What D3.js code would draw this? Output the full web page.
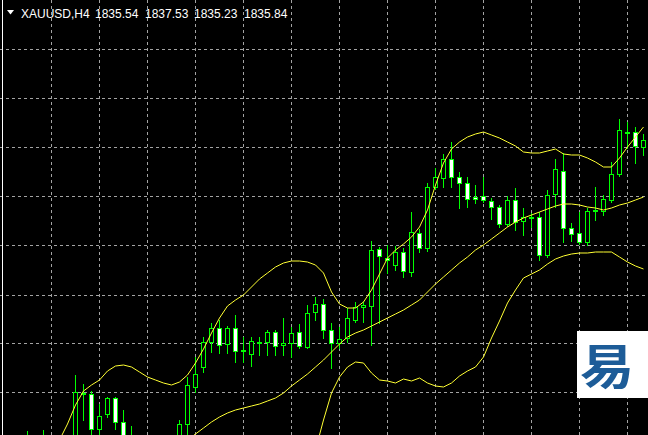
<!DOCTYPE html>
<html><head><meta charset="utf-8">
<script src="https://cdn.jsdelivr.net/npm/d3@7"></script>
<style>html,body{margin:0;padding:0;background:#000;overflow:hidden}svg{display:block}</style>
</head><body><svg id="c" width="648" height="435"></svg>
<script>
// ---- data (XAUUSD H4, bar index relative to first fully drawn bar) ----
const firstBar = -6;
const open = [1774.84,1773.84,1774.64,1774.24,1774.84,1773.44,1774.84,1785.34,1785.04,1778.04,1781.04,1784.24,1779.44,1774.24,1772.84,1773.84,1771.84,1773.44,1774.44,1774.84,1779.04,1786.44,1790.44,1795.44,1798.24,1795.04,1798.24,1793.84,1793.04,1795.44,1795.44,1797.44,1794.74,1795.34,1797.44,1794.44,1801.44,1803.04,1797.84,1795.24,1796.24,1799.84,1802.44,1802.64,1814.04,1812.24,1810.84,1813.44,1809.44,1817.24,1814.24,1826.44,1828.24,1832.04,1828.44,1827.24,1824.44,1824.64,1823.64,1822.44,1819.04,1823.84,1819.64,1820.44,1820.44,1812.84,1825.04,1829.64,1818.24,1817.24,1815.44,1821.84,1821.64,1823.84,1829.04,1837.24,1837.44,1834.44];
const high = [1777.64,1775.84,1777.84,1775.64,1775.84,1775.44,1788.84,1787.04,1785.64,1783.04,1784.44,1784.44,1781.84,1778.64,1775.84,1775.44,1774.84,1775.84,1776.24,1779.84,1788.44,1792.44,1796.44,1799.24,1799.84,1798.64,1800.84,1796.44,1796.44,1796.44,1797.84,1797.84,1800.24,1798.44,1799.04,1802.84,1804.44,1804.04,1799.24,1798.44,1802.24,1803.44,1803.44,1815.64,1814.44,1814.84,1814.64,1814.24,1821.44,1818.04,1827.24,1830.24,1833.04,1835.44,1829.44,1828.44,1826.84,1828.44,1824.24,1822.84,1824.64,1826.24,1822.24,1821.24,1821.44,1825.84,1832.04,1833.24,1819.24,1821.44,1822.24,1826.44,1824.84,1831.44,1840.04,1839.44,1838.44,1837.04];
const low = [1772.84,1771.84,1772.84,1772.24,1772.84,1771.84,1773.84,1779.84,1776.44,1776.24,1780.44,1778.04,1774.44,1773.44,1771.84,1770.84,1770.24,1771.84,1772.84,1773.84,1776.24,1785.44,1789.44,1793.44,1793.24,1793.24,1791.44,1791.44,1790.64,1792.84,1792.84,1792.84,1792.84,1792.44,1794.24,1794.24,1799.84,1796.24,1790.24,1794.24,1795.44,1799.44,1799.44,1794.84,1799.24,1809.24,1809.84,1808.44,1808.64,1813.44,1813.64,1826.04,1826.44,1826.44,1822.24,1822.44,1823.24,1823.44,1820.04,1818.44,1818.64,1817.84,1816.84,1818.44,1811.84,1812.44,1822.44,1815.44,1815.64,1815.04,1814.84,1819.84,1820.84,1823.44,1828.64,1834.24,1831.24,1832.84];
const close = [1775.84,1774.84,1775.84,1774.84,1773.84,1774.44,1785.44,1785.04,1778.04,1780.64,1784.24,1779.44,1775.44,1776.24,1774.84,1772.24,1773.44,1774.44,1774.84,1779.04,1786.84,1789.04,1795.44,1798.24,1794.84,1798.24,1793.64,1793.54,1795.64,1795.24,1797.44,1794.64,1795.34,1797.24,1794.64,1801.24,1803.04,1797.84,1795.24,1796.04,1800.24,1802.44,1802.84,1813.84,1812.64,1811.84,1813.44,1809.64,1817.44,1814.24,1826.44,1828.44,1832.04,1828.44,1827.24,1824.04,1824.04,1823.84,1822.44,1819.04,1823.84,1819.44,1820.44,1820.24,1812.84,1824.84,1830.04,1818.24,1817.04,1815.44,1821.64,1821.64,1824.04,1829.04,1837.84,1837.44,1834.64,1835.84];

// Bollinger Bands (null = outside the visible window)
const bbUpper = [null,null,null,null,1775.84,1779.04,1782.84,1785.64,1786.84,1787.84,1789.64,1790.64,1790.84,1790.44,1789.44,1788.44,1787.84,1787.24,1786.84,1787.44,1788.84,1791.24,1794.04,1797.24,1800.24,1802.64,1803.84,1804.84,1806.44,1808.04,1809.24,1810.44,1811.24,1811.64,1811.64,1811.44,1810.84,1809.24,1805.44,1803.04,1802.24,1802.24,1803.44,1805.84,1809.04,1812.24,1813.84,1815.04,1816.44,1818.44,1821.84,1826.84,1831.24,1834.04,1835.44,1836.44,1837.04,1837.44,1836.84,1836.24,1835.44,1834.64,1833.44,1833.24,1833.24,1833.64,1834.04,1833.04,1832.84,1832.84,1832.24,1831.44,1830.44,1830.44,1832.24,1834.44,1836.44,1838.44];
const bbMiddle = [null,null,null,null,null,null,null,null,null,null,null,null,null,null,null,null,null,null,null,null,1775.84,1777.04,1778.24,1779.44,1780.44,1781.24,1781.84,1782.24,1782.64,1783.04,1783.64,1784.24,1785.24,1786.64,1787.84,1789.04,1790.44,1791.84,1793.44,1795.04,1796.44,1797.24,1797.84,1798.64,1799.44,1800.24,1801.04,1801.84,1802.84,1803.84,1805.44,1807.04,1808.44,1809.84,1811.24,1812.44,1813.84,1814.84,1816.04,1817.24,1818.44,1819.44,1820.24,1820.84,1821.44,1822.04,1822.64,1823.04,1823.04,1822.84,1822.44,1822.24,1821.84,1822.24,1822.84,1823.24,1823.84,1824.44];
const bbLower = [null,null,null,null,null,null,null,null,null,null,null,null,null,null,null,null,null,null,null,null,null,null,null,null,null,null,null,null,null,null,null,null,null,null,null,null,1773.84,1779.84,1785.24,1788.44,1790.44,1791.44,1791.24,1789.24,1787.84,1787.64,1787.24,1788.04,1787.64,1788.24,1787.24,1786.64,1786.44,1787.24,1788.64,1789.64,1790.44,1792.44,1796.24,1799.64,1803.24,1805.84,1808.24,1809.04,1809.84,1811.04,1812.04,1812.64,1813.04,1813.24,1813.24,1813.44,1813.44,1813.44,1812.44,1811.44,1810.64,1810.04];

const gridPrices = [1853.84,1844.04,1834.24,1824.44,1814.64,1804.84,1795.04,1785.24];
const barsPerDay = 6, dayOffset = 3;
const symbolLabel = "XAUUSD,H4";
const quoteLabels = ["1835.54","1837.53","1835.23","1835.84"];
const watermark = "易";

// ---- drawing ----
const W = 648, H = 435;
const svg = d3.select("#c");
svg.append("rect").attr("width", W).attr("height", H).attr("fill", "#000");

const x = d3.scaleLinear().domain([0, 71]).range([75.5, 643.5]);
const y = d3.scaleLinear().domain([1863.84, 1776.84]).range([0, H]);
const px = v => Math.round(v) + 0.5;

// grid
const lastBar = firstBar + open.length - 1;
const gridG = svg.append("g").attr("stroke", "#a3a3a3").attr("stroke-width", 1).attr("stroke-dasharray", "3,3");
gridG.selectAll("line.h").data(gridPrices).join("line").attr("class", "h")
  .attr("x1", 0).attr("x2", W).attr("y1", d => px(y(d) - 0.5)).attr("y2", d => px(y(d) - 0.5));
const dayBars = d3.range(firstBar, lastBar + 1).filter(k => ((k - dayOffset) % barsPerDay + barsPerDay) % barsPerDay === 0);
gridG.selectAll("line.v").data(dayBars).join("line").attr("class", "v")
  .attr("y1", 0).attr("y2", H).attr("x1", d => x(d)).attr("x2", d => x(d));

// left border
svg.append("line").attr("x1", 2.5).attr("x2", 2.5).attr("y1", 0).attr("y2", H).attr("stroke", "#fff");

// candles
const bars = open.map((o, i) => ({ k: firstBar + i, o, h: high[i], l: low[i], c: close[i] }));
const cg = svg.append("g");
cg.selectAll("line.wick").data(bars).join("line").attr("class", "wick")
  .attr("x1", d => x(d.k)).attr("x2", d => x(d.k))
  .attr("y1", d => Math.round(y(d.h))).attr("y2", d => Math.round(y(d.l)) + 1)
  .attr("stroke", "#00ff00").attr("stroke-width", 1);
cg.selectAll("rect.body").data(bars).join("rect").attr("class", "body")
  .attr("x", d => x(d.k) - 2)
  .attr("y", d => Math.round(y(Math.max(d.o, d.c))) + 0.5)
  .attr("width", 4)
  .attr("height", d => Math.max(1, Math.round(y(Math.min(d.o, d.c))) - Math.round(y(Math.max(d.o, d.c)))))
  .attr("fill", d => d.c >= d.o ? "#000" : "#ffffff")
  .attr("stroke", "#00ff00").attr("stroke-width", 1);

// bollinger bands
const bandLine = d3.line().defined(v => v != null).x((v, i) => x(firstBar + i)).y(v => y(v));
[bbUpper, bbMiddle, bbLower].forEach(arr => {
  svg.append("path").datum(arr).attr("d", bandLine)
    .attr("fill", "none").attr("stroke", "#ffff33").attr("stroke-width", 1);
});

// title
const tg = svg.append("g").attr("fill", "#fff").attr("font-family", "'Liberation Sans', Arial, sans-serif").attr("font-size", 12);
tg.append("path").attr("d", "M7,10 L14,10 L10.5,14.5 Z").attr("fill", "#fff");
tg.append("text").attr("x", 21).attr("y", 18).text(symbolLabel);
const qx = [95, 145, 194, 244];
quoteLabels.forEach((q, i) => tg.append("text").attr("x", qx[i]).attr("y", 18).text(q));

// watermark
svg.append("rect").attr("x", 577).attr("y", 331).attr("width", 71).attr("height", 67).attr("fill", "#fff");
svg.append("text").attr("transform", "translate(580,384) scale(1.13,1)")
  .attr("font-family", "'Noto Sans CJK SC', sans-serif")
  .attr("font-weight", 700).attr("font-size", 48).attr("fill", "#1d5c98").text(watermark);
</script>
</body></html>
